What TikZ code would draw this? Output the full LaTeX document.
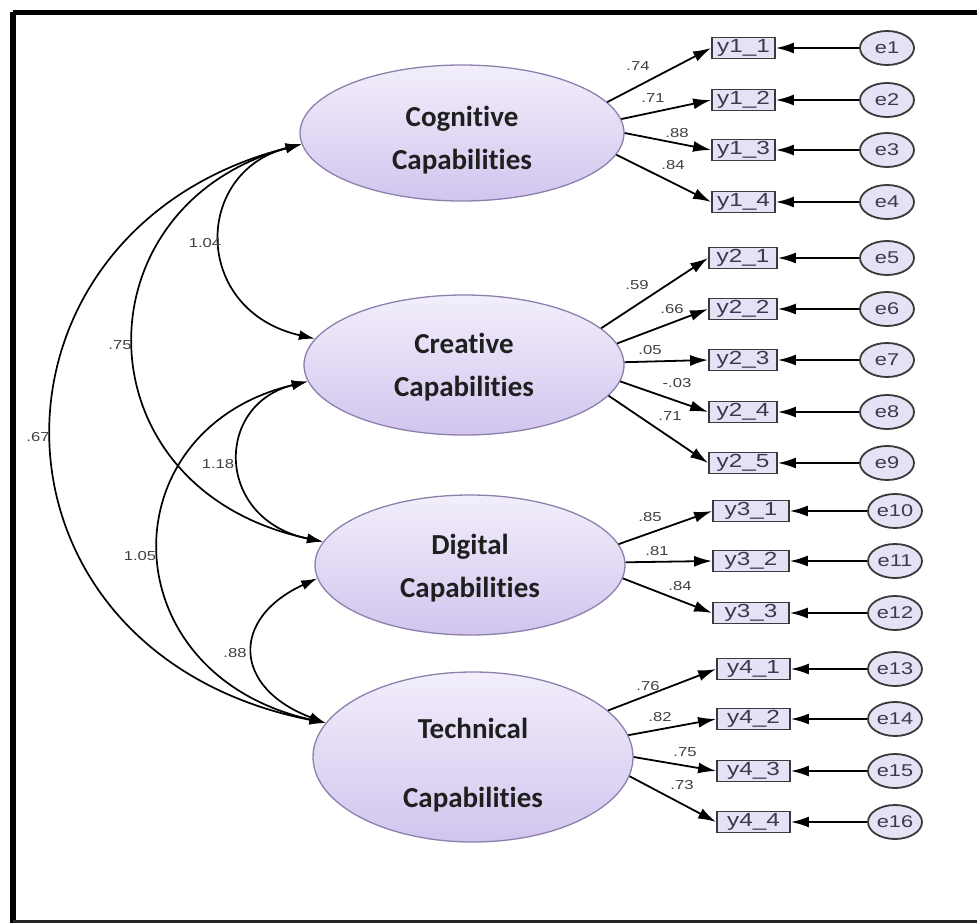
\documentclass[tikz,border=0pt]{standalone}
\usepackage{fontspec}
\setmainfont{Liberation Sans}
\newfontfamily\wide[FakeStretch=1.28]{Liberation Sans}
\newfontfamily\calib[Ligatures={NoCommon}]{Carlito}
\usetikzlibrary{arrows.meta,shapes.geometric}
\definecolor{lattop}{HTML}{F2EEFB}
\definecolor{latbot}{HTML}{D2C5EE}
\definecolor{latline}{HTML}{8C80AD}
\definecolor{boxfill}{HTML}{E7E1F5}
\definecolor{boxline}{HTML}{3A3A3A}
\definecolor{txt}{HTML}{3A3A4C}
\definecolor{lbltxt}{HTML}{404040}
\newcommand{\lattext}[2]{\raisebox{#1}[\height][\depth]{\begin{tabular}{@{}c@{}}#2\end{tabular}}}
\begin{document}
\begin{tikzpicture}[x=1pt,y=-1pt,
  lat/.style={ellipse, draw=latline, line width=1.3pt, top color=lattop, bottom color=latbot,
    inner sep=0pt, font=\calib\bfseries\fontsize{29}{43}\selectfont, text=black!88},
  obs/.style={rectangle, draw=boxline, line width=1.8pt, fill=boxfill, inner sep=0pt,
    minimum height=21pt, font=\wide\fontsize{19}{19}\selectfont, text=txt},
  err/.style={ellipse, draw=boxline, line width=1.8pt, fill=boxfill, inner sep=0pt,
    minimum width=54pt, minimum height=34pt, font=\wide\fontsize{17}{17}\selectfont, text=txt},
  ld/.style={line width=1.8pt, -{Latex[length=18pt,width=11pt]}},
  cov/.style={line width=1.7pt, {Latex[length=16pt,width=10pt]}-{Latex[length=16pt,width=10pt]}},
  lbl/.style={font=\wide\fontsize{13}{13}\selectfont, text=lbltxt, inner sep=0pt},
]
\useasboundingbox (0,0) rectangle (977,923);
\fill[white] (0,0) rectangle (977,923);
% frame
\draw[line width=5pt] (12.5,12.5) -- (980,12.5);
\draw[line width=6pt] (12.5,12.5) -- (12.5,930);
\draw[line width=3pt, black!85] (12.5,921.5) -- (980,921.5);

% latent variables
\node[lat, minimum width=324pt, minimum height=136pt] (cog) at (462,133) {\lattext{-6pt}{Cognitive\\Capabilities}};
\node[lat, minimum width=320pt, minimum height=140pt] (cre) at (464,365) {\lattext{-1pt}{Creative\\Capabilities}};
\node[lat, minimum width=310pt, minimum height=140pt] (dig) at (470,565) {\lattext{-2pt}{Digital\\Capabilities}};
\node[lat, minimum width=320pt, minimum height=170pt] (tec) at (473,757) {\lattext{-7pt}{Technical\\[26pt]Capabilities}};

% observed variables
\foreach \n/\y in {1/48,2/100,3/150,4/202}{
  \node[obs, minimum width=63pt] (y1\n) at (743.5,\y) {y1\_\n};}
\foreach \n/\y in {1/258,2/309,3/360,4/412,5/463}{
  \node[obs, minimum width=68pt] (y2\n) at (743,\y) {y2\_\n};}
\foreach \n/\y in {1/511,2/561,3/613}{
  \node[obs, minimum width=76pt] (y3\n) at (751,\y) {y3\_\n};}
\foreach \n/\y in {1/669,2/719,3/771,4/822}{
  \node[obs, minimum width=73pt] (y4\n) at (753.5,\y) {y4\_\n};}

% error terms
\foreach \e/\b/\y in {1/y11/48,2/y12/100,3/y13/150,4/y14/202,5/y21/258,6/y22/309,7/y23/360,8/y24/412,9/y25/463}{
  \node[err] (e\e) at (887,\y) {e\e};
  \draw[ld] (e\e.west) -- (\b.east);}
\foreach \e/\b/\y in {10/y31/511,11/y32/561,12/y33/613,13/y41/669,14/y42/719,15/y43/771,16/y44/822}{
  \node[err] (e\e) at (895,\y) {e\e};
  \draw[ld] (e\e.west) -- (\b.east);}

% loadings
\draw[ld] (cog.12.1) -- (y11.west);
\draw[ld] (cog.5.8) -- (y12.west);
\draw[ld] (cog.-0.7) -- (y13.west);
\draw[ld] (cog.-8.2) -- (y14.west);
\draw[ld] (cre.15.2) -- (y21.west);
\draw[ld] (cre.8.7) -- (y22.west);
\draw[ld] (cre.1.8) -- (y23.west);
\draw[ld] (cre.-6.2) -- (y24.west);
\draw[ld] (cre.-12.7) -- (y25.west);
\draw[ld] (dig.8.5) -- (y31.west);
\draw[ld] (dig.1.5) -- (y32.west);
\draw[ld] (dig.-5.7) -- (y33.west);
\draw[ld] (tec.19.4) -- (y41.west);
\draw[ld] (tec.8.1) -- (y42.west);
\draw[ld] (tec.0) -- (y43.west);
\draw[ld] (tec.-7.7) -- (y44.west);

\node[lbl] (l11) at (638,66) {.74};
\node[lbl] (l12) at (653,98) {.71};
\node[lbl] (l13) at (677,133) {.88};
\node[lbl] (l14) at (673,165) {.84};
\node[lbl] (l21) at (637,285) {.59};
\node[lbl] (l22) at (672,309) {.66};
\node[lbl] (l23) at (650,350) {.05};
\node[lbl] (l24) at (677,383) {-.03};
\node[lbl] (l25) at (670,416) {.71};
\node[lbl] (l31) at (650,517) {.85};
\node[lbl] (l32) at (657,551) {.81};
\node[lbl] (l33) at (680,586) {.84};
\node[lbl] (l41) at (648,686) {.76};
\node[lbl] (l42) at (660,717) {.82};
\node[lbl] (l43) at (685,752) {.75};
\node[lbl] (l44) at (682,785) {.73};

% covariances
\draw[cov] (cog.184) .. controls +(-109,28) and +(-123,-28) .. (cre.170);
\draw[cov] (cog.184) .. controls +(-226,61) and +(-247,-52) .. (dig.171.5);
\draw[cov] (cog.184) .. controls +(-336,86) and +(-359,-71) .. (tec.167.8);
\draw[cov] (cre.186.3) .. controls +(-94,23) and +(-108,-22) .. (dig.171.5);
\draw[cov] (cre.186.3) .. controls +(-201,48) and +(-217,-49) .. (tec.167.8);
\draw[cov] (dig.185.7) .. controls +(-87,40) and +(-93,-35) .. (tec.167.8);

\node[lbl] (c1) at (205,243) {1.04};
\node[lbl] (c2) at (120,345) {.75};
\node[lbl] (c3) at (38,437) {.67};
\node[lbl] (c4) at (218,464) {1.18};
\node[lbl] (c5) at (140,556) {1.05};
\node[lbl] (c6) at (235,653) {.88};
\end{tikzpicture}
\end{document}
